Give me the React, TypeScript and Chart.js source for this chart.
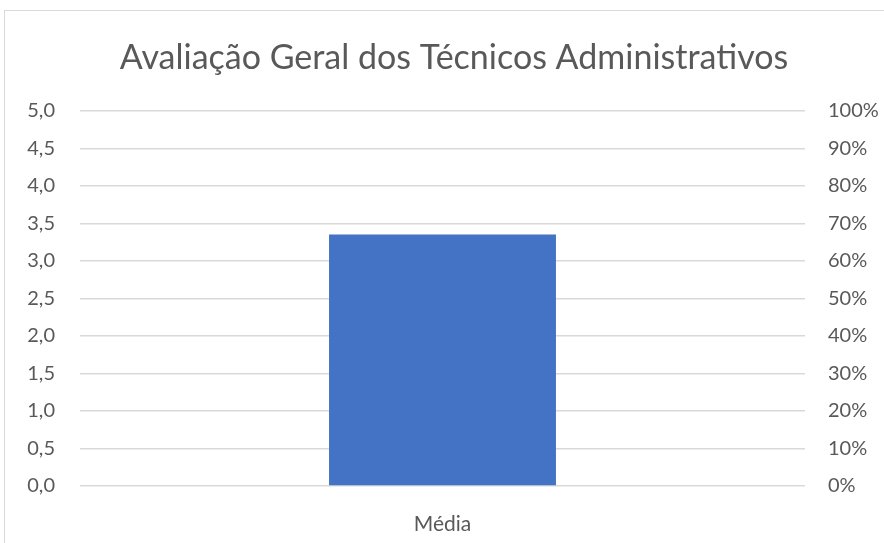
import React, { useEffect, useRef } from "react";
import { Chart, registerables } from "chart.js";

Chart.register(...registerables);

const categories = ["Média"];
const values = [3.35];
const leftTicks = [0, 0.5, 1, 1.5, 2, 2.5, 3, 3.5, 4, 4.5, 5];
const rightTicks = [0, 0.1, 0.2, 0.3, 0.4, 0.5, 0.6, 0.7, 0.8, 0.9, 1];
const title = "Avaliação Geral dos Técnicos Administrativos";

const FONT = "Lato, 'Open Sans', sans-serif";

export default function App() {
  const ref = useRef<HTMLCanvasElement | null>(null);
  useEffect(() => {
    if (!ref.current) return;
    const chart = new Chart(ref.current, {
      type: "bar",
      data: {
        labels: categories,
        datasets: [
          {
            data: values,
            backgroundColor: "#4472C4",
            borderWidth: 0,
            barPercentage: 0.313,
            categoryPercentage: 1,
            yAxisID: "y",
          },
        ],
      },
      options: {
        responsive: false,
        animation: false,
        layout: { padding: 0 },
        plugins: {
          legend: { display: false },
          tooltip: { enabled: false },
          title: {
            display: true,
            text: title,
            color: "#595959",
            font: { family: FONT, size: 34, weight: "normal" },
            padding: { top: 27, bottom: 32 },
          },
        },
        scales: {
          x: {
            grid: { display: false },
            border: { display: false },
            ticks: { color: "#595959", font: { family: FONT, size: 21 }, padding: 18 },
            afterFit: (s: any) => { s.height = 85; },
          },
          y: {
            position: "left",
            min: 0,
            max: 5,
            afterBuildTicks: (s: any) => { s.ticks = leftTicks.map((v) => ({ value: v })); },
            ticks: {
              color: "#595959",
              font: { family: FONT, size: 20 },
              padding: 25,
              callback: (v: any) => Number(v).toFixed(1).replace(".", ","),
            },
            grid: { color: "#d9d9d9", lineWidth: 1.5, drawTicks: false },
            border: { display: false },
            afterFit: (s: any) => { s.width = 75; },
          },
          y1: {
            position: "right",
            display: true,
            min: 0,
            max: 1,
            afterBuildTicks: (s: any) => { s.ticks = rightTicks.map((v) => ({ value: v })); },
            ticks: {
              color: "#595959",
              font: { family: FONT, size: 20 },
              padding: 23,
              callback: (v: any) => Math.round(Number(v) * 100) + "%",
            },
            grid: { display: false, drawTicks: false },
            border: { display: false },
            afterFit: (s: any) => { s.width = 98; },
          },
        },
      },
    });
    return () => chart.destroy();
  }, []);
  return (
    <div style={{ position: "fixed", left: 0, top: 0, width: 884, height: 543, overflow: "hidden", background: "#fff" }}>
      <div style={{ position: "absolute", left: 4, top: 10, width: 898, height: 560, border: "1px solid #d9d9d9", background: "#fff" }}>
        <canvas ref={ref} width={898} height={560} style={{ display: "block" }} />
      </div>
    </div>
  );
}
